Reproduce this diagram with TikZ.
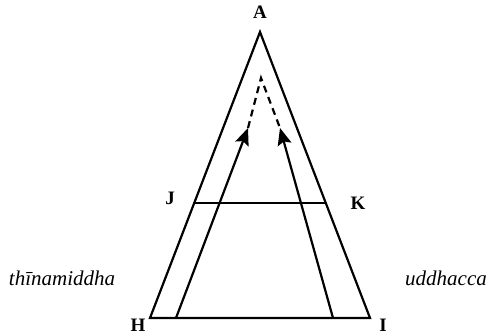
\documentclass[tikz,border=0pt]{standalone}
\usepackage{fontspec}
\setmainfont{Liberation Serif}
\usetikzlibrary{arrows.meta}
\begin{document}
\begin{tikzpicture}[x=1pt, y=1pt, line width=2.2pt,
    lbl/.style={font=\fontsize{19}{22}\selectfont\bfseries, inner sep=0pt},
    mind/.style={font=\fontsize{21}{24}\selectfont\itshape, inner sep=0pt},
    rise/.style={-{Stealth[length=17pt, width=14pt, inset=3pt]}},
    fade/.style={dash pattern=on 7pt off 5pt, line width=2.2pt}]
  \useasboundingbox (0,0) rectangle (492,334);
  % outer triangle A H I, cut by J K
  \coordinate (A) at (260,302);
  \coordinate (H) at (150,16);
  \coordinate (I) at (370,16);
  \coordinate (J) at (194.2,131);
  \coordinate (K) at (325.8,131);
  % inner rising lines and where they fade out
  \coordinate (hl) at (176,16);  \coordinate (tl) at (248,206);
  \coordinate (hr) at (333,16);  \coordinate (tr) at (280,206);
  \coordinate (top) at (261,256);
  \draw (H) -- (A) -- (I) -- cycle;
  \draw (J) -- (K);
  \draw[rise] (hl) -- (tl);
  \draw[rise] (hr) -- (tr);
  \draw[fade] (tl) -- (top) -- (tr);
  \node[lbl] (la) at (260,322) {A};
  \node[lbl] (lj) at (170,136) {J};
  \node[lbl] (lk) at (358,131) {K};
  \node[lbl] (lh) at (138,9) {H};
  \node[lbl] (li) at (383,9) {I};
  \node[mind] (sloth) at (62,56) {thīnamiddha};
  \node[mind] (restless) at (446,56) {uddhacca};
\end{tikzpicture}
\end{document}
